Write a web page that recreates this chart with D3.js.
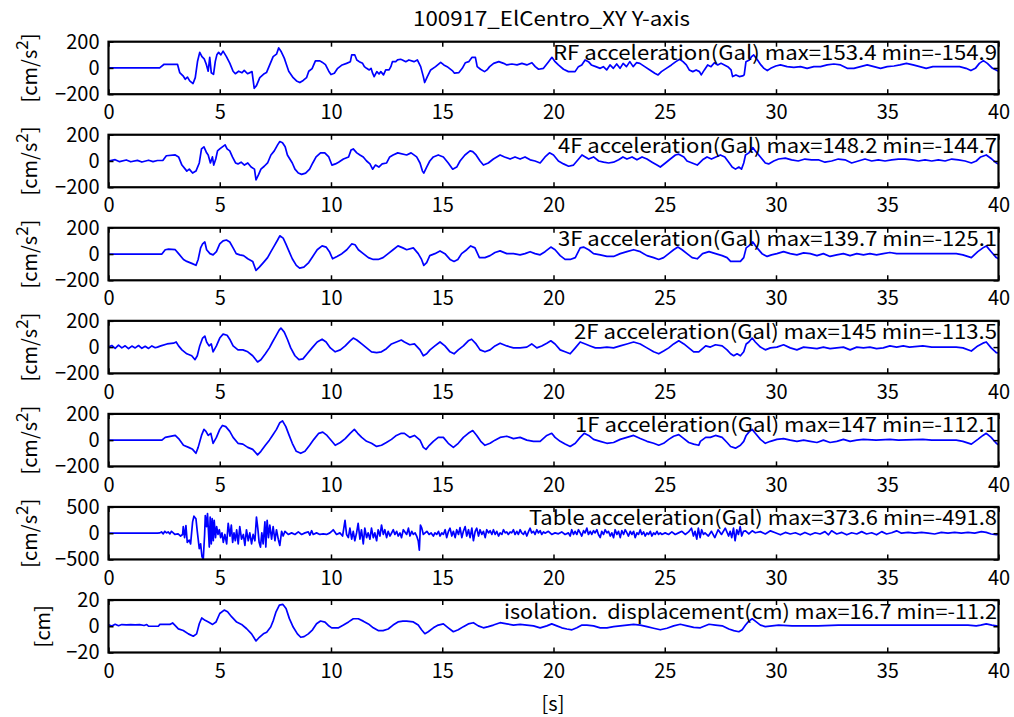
<!DOCTYPE html>
<html><head><meta charset="utf-8">
<script src="https://cdn.jsdelivr.net/npm/d3@7"></script>
<style>
body{margin:0;background:#fff}
svg text{font-family:"Noto Sans CJK JP","Noto Sans",sans-serif;fill:#000}
</style>
</head><body>
<svg id="chart" width="1014" height="717"></svg>
<script>
// ---------------- DATA ----------------
const chartTitle = "100917_ElCentro_XY Y-axis";
const xLabel = "[s]";
const xTicks = [0,5,10,15,20,25,30,35,40];
const accTicks = [-200,0,200];
const tableTicks = [-500,0,500];
const dispTicks = [-20,0,20];
const panelNotes = [
  "RF acceleration(Gal) max=153.4 min=-154.9",
  "4F acceleration(Gal) max=148.2 min=-144.7",
  "3F acceleration(Gal) max=139.7 min=-125.1",
  "2F acceleration(Gal) max=145 min=-113.5",
  "1F acceleration(Gal) max=147 min=-112.1",
  "Table acceleration(Gal) max=373.6 min=-491.8",
  "isolation.  displacement(cm) max=16.7 min=-11.2"
];
const yLabels = ["cm/s2","cm/s2","cm/s2","cm/s2","cm/s2","cm/s2","cm"];

// [time s, value]
const seriesRF = [[0,0],[2.3,0],[2.5,28],[3.1,28],[3.2,-35],[3.35,-60],[3.45,-86],[3.55,-70],[3.65,-99],[3.8,-119],[3.9,-74],[4.0,49],[4.1,119],[4.2,86],[4.3,70],[4.4,25],[4.48,-25],[4.55,80],[4.62,-37],[4.72,-49],[4.8,50],[4.87,100],[4.95,119],[5.05,100],[5.15,128],[5.3,86],[5.45,37],[5.6,-25],[5.7,-44],[5.85,-25],[6.0,-37],[6.1,-18],[6.25,-44],[6.45,-28],[6.55,-155],[6.65,-135],[6.8,-74],[7.0,-44],[7.1,-35],[7.25,25],[7.4,86],[7.55,105],[7.65,153],[7.75,128],[7.9,75],[8.0,25],[8.1,-25],[8.3,-74],[8.45,-99],[8.6,-111],[8.75,-95],[8.9,-74],[9.0,-25],[9.15,-5],[9.3,54],[9.5,54],[9.6,44],[9.75,25],[9.9,-25],[10.0,-50],[10.15,-40],[10.3,-3],[10.5,23],[10.7,35],[10.87,48],[10.93,99],[11.07,99],[11.16,61],[11.27,48],[11.42,35],[11.5,10],[11.6,-3],[11.72,-15],[11.8,-3],[11.87,-40],[11.94,-66],[12.06,-28],[12.16,-46],[12.24,-28],[12.36,-53],[12.46,-15],[12.61,-15],[12.69,10],[12.76,48],[12.91,48],[12.99,61],[13.13,66],[13.21,61],[13.36,48],[13.5,61],[13.73,48],[13.88,61],[14.03,10],[14.15,-66],[14.21,-111],[14.33,-66],[14.48,-15],[14.7,10],[14.93,43],[15.07,23],[15.22,10],[15.45,-20],[15.55,-40],[15.75,-35],[15.9,-3],[16.04,40],[16.19,48],[16.34,81],[16.49,81],[16.57,10],[16.72,-10],[16.9,-28],[17.01,-15],[17.13,10],[17.31,35],[17.54,48],[17.76,35],[17.9,23],[18.13,30],[18.36,23],[18.58,35],[18.8,23],[19.03,40],[19.18,10],[19.33,-10],[19.55,-3],[19.78,48],[19.93,81],[20.07,48],[20.22,23],[20.45,-10],[20.67,-28],[20.97,-28],[21.12,10],[21.27,23],[21.42,61],[21.57,48],[21.7,23],[21.9,10],[22.1,-3],[22.24,10],[22.39,-15],[22.54,23],[22.69,-3],[22.84,30],[22.99,-3],[23.13,35],[23.28,10],[23.43,48],[23.58,10],[23.73,40],[23.88,35],[24.1,10],[24.33,-15],[24.55,-40],[24.7,-53],[24.85,-28],[25.07,-3],[25.3,23],[25.5,48],[25.67,66],[25.82,48],[25.97,23],[26.1,-15],[26.26,-28],[26.41,-15],[26.56,-28],[26.64,-53],[26.78,-15],[26.93,23],[27.08,10],[27.23,40],[27.38,23],[27.53,35],[27.68,23],[27.83,10],[27.98,-15],[28.05,-66],[28.2,-53],[28.35,-66],[28.5,-61],[28.57,-53],[28.65,48],[28.8,61],[28.9,86],[29.0,99],[29.17,61],[29.32,23],[29.46,-3],[29.61,-20],[29.76,-3],[29.99,15],[30.2,23],[30.5,10],[30.8,5],[31.1,10],[31.4,-3],[31.7,10],[32.0,10],[32.3,23],[32.6,30],[32.9,23],[33.2,-3],[33.5,-3],[33.8,10],[34.1,23],[34.4,10],[34.7,-3],[35.0,10],[35.3,15],[35.57,23],[35.86,35],[36.16,23],[36.46,10],[36.75,-3],[37.05,10],[37.35,10],[37.65,10],[37.95,10],[38.25,10],[38.54,-3],[38.76,-20],[38.96,-3],[39.14,35],[39.32,56],[39.5,35],[39.73,-3],[40,-25]];

const series4F = [[0,0],[0.3,10],[0.5,-5],[0.8,8],[1.0,-6],[1.3,5],[1.5,-8],[1.8,6],[2.0,-5],[2.2,4],[2.45,5],[2.6,40],[3.0,46],[3.15,31],[3.3,-31],[3.45,-62],[3.52,-77],[3.63,-62],[3.78,-92],[3.93,-77],[4.08,-15],[4.18,92],[4.29,108],[4.41,62],[4.48,46],[4.58,-15],[4.67,31],[4.73,-31],[4.82,15],[4.9,77],[5.0,92],[5.12,108],[5.24,123],[5.33,92],[5.45,77],[5.57,31],[5.71,-15],[5.82,-22],[5.96,-9],[6.11,-31],[6.26,-15],[6.41,-46],[6.56,-62],[6.63,-144],[6.75,-102],[6.85,-62],[7.0,-40],[7.15,-15],[7.3,46],[7.45,77],[7.6,123],[7.7,148],[7.82,139],[7.94,108],[8.04,46],[8.15,15],[8.26,-15],[8.38,-62],[8.53,-92],[8.68,-102],[8.86,-92],[9.04,-62],[9.18,-15],[9.33,31],[9.53,62],[9.72,62],[9.9,31],[10.04,-31],[10.2,-22],[10.34,-9],[10.56,15],[10.79,31],[10.9,83],[11.0,92],[11.16,62],[11.3,46],[11.45,31],[11.6,0],[11.75,-22],[11.87,-62],[12.0,-31],[12.15,-46],[12.3,-22],[12.5,-15],[12.64,31],[12.79,46],[13.0,62],[13.4,46],[13.6,62],[13.85,31],[14.0,-15],[14.11,-77],[14.17,-92],[14.3,-46],[14.44,0],[14.6,31],[14.82,46],[15.05,31],[15.27,-15],[15.47,-62],[15.65,-46],[15.8,0],[16.02,46],[16.25,77],[16.37,71],[16.52,46],[16.7,0],[16.85,-31],[17.07,-15],[17.3,15],[17.6,46],[17.8,31],[18.05,15],[18.27,31],[18.5,15],[18.72,31],[18.95,9],[19.17,0],[19.4,-15],[19.62,31],[19.82,62],[20.0,46],[20.22,0],[20.45,-22],[20.68,-40],[20.9,-31],[21.13,15],[21.28,46],[21.43,31],[21.58,15],[21.8,31],[22.03,0],[22.25,-9],[22.48,-15],[22.7,-9],[22.93,9],[23.12,31],[23.3,15],[23.53,31],[23.75,9],[23.98,31],[24.2,15],[24.43,-9],[24.65,-31],[24.8,-46],[25.03,-15],[25.25,15],[25.48,46],[25.63,52],[25.86,31],[26.0,0],[26.23,-15],[26.46,-31],[26.7,9],[26.9,31],[27.1,15],[27.3,31],[27.5,46],[27.7,31],[27.9,-15],[28.03,-46],[28.18,-62],[28.33,-46],[28.45,-62],[28.55,-15],[28.63,46],[28.78,62],[28.96,102],[29.07,77],[29.3,31],[29.52,-15],[29.67,-22],[29.9,0],[30.12,15],[30.42,22],[30.7,9],[31.0,0],[31.3,15],[31.6,9],[31.9,9],[32.2,-9],[32.5,0],[32.8,15],[33.1,9],[33.4,-15],[33.7,0],[34.0,15],[34.3,0],[34.6,9],[34.9,0],[35.2,9],[35.5,15],[35.8,15],[36.1,9],[36.4,0],[36.7,9],[37.0,0],[37.3,9],[37.6,0],[37.9,15],[38.2,9],[38.5,0],[38.78,-15],[39.0,0],[39.2,31],[39.45,46],[39.7,15],[39.9,-15],[40,-22]];

const series3F = [[0,0],[2.4,0],[2.55,33],[2.7,38],[3.0,33],[3.15,3],[3.37,-41],[3.52,-56],[3.74,-71],[3.93,-86],[4.03,-41],[4.14,47],[4.23,77],[4.33,92],[4.41,33],[4.56,3],[4.7,-6],[4.85,18],[5.0,77],[5.15,100],[5.3,107],[5.45,92],[5.6,47],[5.74,3],[5.9,-6],[6.07,-12],[6.26,-36],[6.48,-56],[6.63,-125],[6.78,-100],[6.96,-65],[7.15,-27],[7.3,18],[7.45,62],[7.6,107],[7.7,139],[7.85,121],[7.97,77],[8.12,18],[8.26,-36],[8.44,-86],[8.59,-107],[8.78,-100],[9.0,-65],[9.18,-18],[9.38,33],[9.6,62],[9.78,53],[9.93,18],[10.07,-36],[10.27,-18],[10.49,3],[10.71,33],[10.93,77],[11.08,71],[11.23,33],[11.45,3],[11.68,-27],[11.9,-41],[12.12,-41],[12.34,-27],[12.57,3],[12.79,33],[13.01,62],[13.23,47],[13.4,33],[13.7,47],[13.92,3],[14.07,-41],[14.17,-86],[14.3,-65],[14.44,-12],[14.67,3],[14.9,24],[15.12,3],[15.35,-41],[15.53,-56],[15.7,-41],[15.87,3],[16.1,33],[16.28,62],[16.47,47],[16.67,-27],[16.92,-27],[17.15,-12],[17.37,12],[17.6,24],[17.9,3],[18.2,3],[18.5,-6],[18.72,3],[18.95,18],[19.17,3],[19.4,-6],[19.62,18],[19.88,53],[20.07,33],[20.3,-12],[20.52,-41],[20.75,-41],[20.98,-27],[21.2,47],[21.35,53],[21.58,33],[21.8,3],[22.1,-6],[22.4,-18],[22.7,-18],[23.0,3],[23.3,18],[23.6,33],[23.9,18],[24.2,-12],[24.5,-27],[24.73,-41],[24.95,-27],[25.18,3],[25.4,33],[25.59,53],[25.78,33],[26.0,3],[26.23,-27],[26.46,-36],[26.7,3],[26.99,18],[27.28,3],[27.58,-12],[27.8,-27],[27.96,-56],[28.18,-56],[28.4,-56],[28.55,-27],[28.66,47],[28.78,62],[28.96,92],[29.15,47],[29.37,3],[29.6,-18],[29.8,-6],[30.04,3],[30.34,18],[30.64,3],[30.94,-6],[31.24,9],[31.54,3],[31.84,-12],[32.13,3],[32.43,-18],[32.73,-6],[33.03,3],[33.33,-12],[33.63,3],[33.93,-6],[34.22,3],[34.52,-6],[34.82,3],[35.12,12],[35.42,3],[36.0,3],[37.0,3],[38.1,3],[38.4,-6],[38.78,-27],[39.07,18],[39.3,47],[39.45,62],[39.67,18],[39.9,-27],[40,-35]];

const series2F = [[0,0],[0.15,12],[0.3,-9],[0.45,15],[0.6,-6],[0.75,10],[0.9,-12],[1.05,8],[1.2,-6],[1.35,12],[1.5,-9],[1.65,6],[1.8,-10],[1.95,9],[2.1,-5],[2.2,0],[2.35,9],[2.63,24],[2.92,30],[3.04,39],[3.15,9],[3.3,-21],[3.52,-51],[3.74,-66],[3.89,-96],[3.99,-66],[4.1,9],[4.23,69],[4.33,84],[4.41,39],[4.52,9],[4.62,24],[4.7,-36],[4.85,9],[5.0,69],[5.15,99],[5.33,90],[5.47,54],[5.6,9],[5.82,-21],[6.04,-21],[6.26,-36],[6.48,-66],[6.7,-113],[6.85,-96],[7.05,-51],[7.23,-6],[7.37,39],[7.52,84],[7.67,129],[7.75,145],[7.9,114],[8.04,60],[8.19,-6],[8.38,-66],[8.56,-96],[8.74,-90],[8.93,-51],[9.15,-6],[9.38,39],[9.6,60],[9.78,39],[9.97,-6],[10.19,-36],[10.42,-21],[10.64,9],[10.86,48],[11.0,69],[11.16,54],[11.38,24],[11.6,-6],[11.82,-36],[12.05,-42],[12.27,-36],[12.49,-12],[12.72,24],[12.94,39],[13.16,54],[13.3,39],[13.54,18],[13.75,24],[14.0,-21],[14.15,-66],[14.3,-51],[14.45,-21],[14.67,9],[14.9,39],[15.12,9],[15.35,-36],[15.53,-51],[15.72,-21],[15.95,9],[16.17,48],[16.32,60],[16.52,24],[16.7,-21],[16.92,-36],[17.15,-21],[17.37,9],[17.6,30],[17.9,9],[18.2,-6],[18.5,-6],[18.8,0],[19.02,24],[19.25,-6],[19.47,9],[19.7,30],[19.88,48],[20.07,24],[20.3,-21],[20.52,-36],[20.75,-51],[20.98,-6],[21.2,39],[21.43,24],[21.65,9],[21.88,-6],[22.1,-6],[22.4,0],[22.7,-6],[23.0,9],[23.3,24],[23.6,39],[23.9,24],[24.2,-6],[24.5,-36],[24.73,-51],[24.95,-30],[25.18,-6],[25.4,24],[25.63,48],[25.86,24],[26.08,-6],[26.3,-36],[26.53,-36],[26.84,9],[27.05,0],[27.28,18],[27.58,9],[27.8,-21],[27.96,-51],[28.1,-66],[28.25,-51],[28.4,-66],[28.55,-36],[28.66,24],[28.78,39],[28.93,69],[29.07,39],[29.3,0],[29.52,-21],[29.75,-6],[30.04,0],[30.34,18],[30.64,-6],[30.94,-21],[31.24,0],[31.54,-6],[31.84,-12],[32.13,0],[32.43,-12],[32.73,-6],[33.03,0],[33.33,-21],[33.63,0],[33.93,-6],[34.22,0],[34.52,-12],[34.82,-6],[35.12,9],[35.42,0],[35.72,9],[36.0,0],[36.6,9],[37.0,0],[38.1,0],[38.4,-6],[38.78,-30],[39.07,9],[39.3,30],[39.45,39],[39.67,-6],[39.9,-42],[40,-45]];

const series1F = [[0,0],[2.4,0],[2.55,21],[3.0,36],[3.15,12],[3.37,-39],[3.6,-55],[3.78,-70],[3.93,-100],[4.03,-55],[4.18,36],[4.29,82],[4.38,67],[4.48,36],[4.6,52],[4.7,-24],[4.85,21],[5.0,82],[5.12,112],[5.27,103],[5.45,67],[5.6,21],[5.82,-24],[6.04,-30],[6.26,-55],[6.48,-70],[6.7,-112],[6.85,-85],[7.05,-39],[7.23,0],[7.37,36],[7.55,82],[7.7,133],[7.82,147],[7.97,103],[8.12,36],[8.26,-24],[8.44,-85],[8.64,-100],[8.83,-85],[9.04,-39],[9.23,6],[9.45,52],[9.63,61],[9.82,36],[10.04,-9],[10.19,-39],[10.42,-18],[10.64,12],[10.86,52],[11.05,82],[11.2,52],[11.38,21],[11.6,-9],[11.82,-24],[12.05,-48],[12.27,-39],[12.49,-18],[12.72,6],[12.94,36],[13.16,52],[13.3,52],[13.54,21],[13.75,36],[14.0,0],[14.15,-55],[14.27,-70],[14.42,-39],[14.6,-9],[14.82,21],[15.05,21],[15.27,-24],[15.5,-55],[15.72,-24],[15.95,21],[16.17,52],[16.37,73],[16.55,36],[16.73,-9],[16.92,-39],[17.15,-24],[17.37,0],[17.6,21],[17.9,30],[18.2,12],[18.5,21],[18.8,0],[19.1,-9],[19.4,-9],[19.7,36],[19.92,52],[20.07,21],[20.3,-9],[20.52,-30],[20.75,-48],[20.98,-24],[21.2,21],[21.38,52],[21.58,36],[21.8,6],[22.1,-9],[22.4,-24],[22.7,-18],[23.0,6],[23.3,21],[23.6,36],[23.9,12],[24.2,-9],[24.5,-24],[24.73,-39],[24.95,-24],[25.18,6],[25.4,30],[25.63,42],[25.86,12],[26.08,-18],[26.3,-30],[26.53,-39],[26.6,-9],[26.84,21],[27.05,21],[27.28,36],[27.58,21],[27.8,-18],[27.96,-48],[28.18,-61],[28.4,-39],[28.55,-9],[28.66,36],[28.78,61],[28.93,82],[29.07,52],[29.3,6],[29.52,-24],[29.75,-9],[30.04,6],[30.34,12],[30.64,0],[30.94,-9],[31.24,0],[31.54,-9],[31.84,-18],[32.13,0],[32.43,-18],[32.73,-9],[33.03,6],[33.33,-9],[33.63,0],[33.93,6],[34.5,0],[35.12,6],[35.5,0],[36.6,6],[37.0,0],[38.1,0],[38.4,-9],[38.78,-30],[39.07,6],[39.3,36],[39.45,52],[39.67,21],[39.9,-24],[40,-35]];

const seriesTable = [[0,0],[2.2,0],[2.31,6],[2.38,24],[2.46,-12],[2.53,36],[2.61,6],[2.68,24],[2.76,-12],[2.83,36],[2.91,6],[2.98,-24],[3.13,-12],[3.24,-54],[3.33,-24],[3.36,126],[3.42,-84],[3.48,144],[3.54,-174],[3.63,-132],[3.69,-204],[3.78,216],[3.84,324],[3.93,276],[3.99,36],[4.08,-294],[4.14,-204],[4.2,-444],[4.26,-491],[4.32,-24],[4.35,336],[4.41,126],[4.45,373],[4.5,-24],[4.53,-264],[4.57,306],[4.62,-204],[4.66,276],[4.71,-144],[4.75,246],[4.81,-84],[4.86,126],[4.92,-24],[4.98,66],[5.04,-84],[5.1,6],[5.16,-174],[5.23,-24],[5.31,-204],[5.38,186],[5.46,-54],[5.52,156],[5.58,-174],[5.64,6],[5.7,-144],[5.76,66],[5.83,-204],[5.9,126],[5.98,-114],[6.06,-24],[6.13,-234],[6.2,66],[6.28,-144],[6.35,6],[6.43,-204],[6.5,-24],[6.58,-144],[6.65,306],[6.71,96],[6.77,-174],[6.83,-264],[6.89,6],[6.95,-204],[7.03,216],[7.07,-264],[7.13,246],[7.19,-84],[7.25,156],[7.33,-114],[7.4,126],[7.48,-144],[7.55,66],[7.63,-114],[7.7,-234],[7.78,36],[7.85,-54],[7.93,36],[8.08,-24],[8.23,6],[8.38,-24],[8.53,24],[8.68,-24],[8.83,6],[8.98,24],[9.05,-36],[9.13,48],[9.2,-24],[9.35,6],[9.5,-24],[9.65,-12],[9.8,-24],[9.95,6],[10.03,36],[10.1,66],[10.25,-24],[10.4,6],[10.52,-54],[10.63,246],[10.7,-24],[10.78,-84],[10.85,96],[10.93,-114],[11.0,36],[11.07,-144],[11.15,6],[11.22,186],[11.3,-114],[11.37,66],[11.45,-204],[11.52,96],[11.6,-84],[11.67,6],[11.75,-114],[11.82,96],[11.9,-84],[11.97,6],[12.05,-144],[12.12,66],[12.2,-54],[12.27,156],[12.35,-24],[12.42,66],[12.5,-84],[12.57,36],[12.65,-54],[12.8,66],[12.87,-24],[12.95,36],[13.02,-54],[13.1,6],[13.17,-84],[13.25,66],[13.4,-24],[13.48,96],[13.55,-54],[13.63,36],[13.7,-24],[13.78,6],[13.85,-54],[13.92,-144],[13.97,-324],[14.02,156],[14.08,96],[14.15,-24],[14.23,6],[14.31,36],[14.41,-24],[14.5,6],[14.6,-54],[14.67,6],[14.75,-24],[14.83,36],[14.9,-54],[14.98,6],[15.05,-24],[15.13,66],[15.2,-84],[15.28,36],[15.35,96],[15.43,-54],[15.5,36],[15.58,-84],[15.65,66],[15.73,-24],[15.8,108],[15.88,-84],[15.95,36],[16.03,126],[16.1,-54],[16.18,66],[16.25,-84],[16.33,96],[16.4,-144],[16.48,36],[16.55,96],[16.63,-54],[16.7,66],[16.78,-24],[16.85,36],[16.93,-84],[17.0,66],[17.08,6],[17.15,48],[17.23,-24],[17.3,66],[17.38,-24],[17.45,36],[17.53,-54],[17.6,6],[17.68,-24],[17.75,66],[17.83,6],[17.9,24],[17.97,-24],[18.05,24],[18.12,6],[18.2,66],[18.27,-24],[18.35,36],[18.42,-24],[18.5,66],[18.57,6],[18.65,-24],[18.72,36],[18.8,-54],[18.87,24],[18.95,96],[19.02,6],[19.1,36],[19.17,-24],[19.25,66],[19.32,6],[19.4,48],[19.47,-24],[19.55,24],[19.62,0],[19.77,36],[19.92,-24],[20.07,6],[20.22,-12],[20.37,24],[20.52,-24],[20.67,6],[20.75,-54],[20.82,66],[20.9,-24],[20.97,36],[21.05,-24],[21.12,66],[21.2,6],[21.27,-54],[21.35,48],[21.42,6],[21.5,96],[21.57,-24],[21.65,36],[21.72,-24],[21.8,48],[21.87,6],[21.95,66],[22.02,-24],[22.1,-84],[22.17,36],[22.25,-24],[22.32,66],[22.4,6],[22.47,36],[22.55,-54],[22.62,6],[22.7,-84],[22.77,66],[22.85,-24],[22.92,36],[23.0,-84],[23.07,48],[23.15,-24],[23.22,66],[23.3,6],[23.37,-54],[23.45,36],[23.52,-24],[23.6,36],[23.67,-84],[23.75,6],[23.82,-24],[23.9,66],[23.97,-24],[24.05,24],[24.12,-54],[24.2,6],[24.27,-24],[24.35,36],[24.42,-54],[24.5,6],[24.57,-24],[24.65,36],[24.72,-24],[24.8,6],[24.87,-24],[25.02,6],[25.17,-24],[25.32,24],[25.47,-24],[25.62,6],[25.77,36],[25.92,-24],[26.07,24],[26.2,96],[26.29,-54],[26.36,36],[26.44,-114],[26.51,96],[26.59,-84],[26.66,66],[26.74,-24],[26.81,6],[26.96,-54],[27.1,36],[27.25,-84],[27.4,66],[27.55,-24],[27.72,96],[27.87,-54],[27.94,36],[28.01,-84],[28.09,96],[28.16,-144],[28.24,66],[28.31,-24],[28.39,126],[28.46,-54],[28.54,36],[28.63,45],[28.78,-15],[28.93,45],[29.07,8],[29.3,30],[29.52,-15],[29.75,45],[29.97,8],[30.2,-30],[30.42,15],[30.64,-15],[30.87,8],[31.09,-30],[31.3,15],[31.54,-30],[31.76,8],[31.98,-15],[32.2,30],[32.36,-30],[32.5,45],[32.73,-15],[32.96,15],[33.18,-30],[33.4,8],[33.63,-15],[33.85,30],[34.07,-15],[34.3,8],[34.52,-30],[34.75,30],[34.97,-15],[35.2,8],[35.42,45],[35.64,0],[35.94,15],[36.24,0],[36.54,15],[36.84,0],[37.13,-15],[37.43,15],[37.73,0],[38.03,15],[38.33,0],[38.63,15],[38.93,0],[39.23,30],[39.45,15],[39.67,-15],[39.9,-30],[40,-20]];

const seriesDisp = [[0,1.2],[0.15,0.2],[0.3,1.5],[0.45,0.4],[0.6,1.3],[0.8,1.1],[1.0,1.2],[1.2,1.0],[1.4,1.2],[1.6,0.6],[1.72,1.3],[1.8,0],[2.24,0],[2.31,1.4],[2.76,1.4],[2.88,2.5],[2.99,0.6],[3.14,-2],[3.36,-3.2],[3.59,-5.8],[3.81,-7.6],[3.96,-5.8],[4.08,1.9],[4.19,6.3],[4.34,4.5],[4.49,3.2],[4.68,1.4],[4.83,3.2],[5.0,9.7],[5.2,12.3],[5.35,11],[5.54,7.1],[5.76,3.2],[5.98,1.4],[6.21,-1.9],[6.43,-5.8],[6.63,-11.2],[6.78,-8.4],[6.96,-5.8],[7.11,-4.5],[7.29,-0.6],[7.41,4.5],[7.53,11],[7.68,16.1],[7.83,16.7],[7.98,13.5],[8.13,5.8],[8.3,-0.6],[8.49,-5.8],[8.64,-8.4],[8.79,-7.9],[8.98,-5.8],[9.17,-2.7],[9.35,1.9],[9.53,4],[9.73,3.2],[9.88,0.6],[10.03,-1.2],[10.34,-1.2],[10.56,0.9],[10.79,3.3],[11.0,5.7],[11.23,5.7],[11.45,3.9],[11.68,1.8],[11.9,-1.2],[12.12,-3.3],[12.34,-3.3],[12.57,-2.1],[12.79,0.9],[13.01,3.3],[13.23,3.9],[13.4,3.9],[13.7,3.3],[13.92,0.9],[14.07,-2.7],[14.22,-5.7],[14.37,-4.2],[14.6,-1.2],[14.82,0.9],[15.05,1.8],[15.27,-1.2],[15.5,-4.2],[15.72,-2.7],[15.95,-0.3],[16.17,1.8],[16.4,2.7],[16.62,0.3],[16.85,-1.2],[17.07,-0.3],[17.3,0.9],[17.6,2.7],[17.9,1.8],[18.2,0.9],[18.5,1.5],[18.8,0.9],[19.1,0.3],[19.4,-1.2],[19.7,0.3],[19.92,1.8],[20.15,0.3],[20.37,-1.2],[20.6,-2.1],[20.83,-2.7],[21.05,-1.2],[21.28,0.9],[21.5,0.9],[21.8,0.3],[22.1,-1.2],[22.4,-1.2],[22.7,-0.3],[23.0,0.3],[23.3,0.9],[23.6,1.5],[23.9,0.9],[24.2,-0.3],[24.5,-1.5],[24.8,-2.7],[25.1,-1.5],[25.4,0.3],[25.7,1.5],[26.0,0.3],[26.3,-0.9],[26.6,-1.2],[26.99,1.5],[27.28,0.9],[27.58,0.3],[27.88,-2.1],[28.1,-3.3],[28.33,-4.2],[28.48,-2.7],[28.63,0.9],[28.78,3.9],[28.93,5.7],[29.07,3.9],[29.3,0.9],[29.52,-0.3],[29.82,0.3],[30.12,0.9],[30.72,0.3],[31.3,0.3],[31.9,0.3],[32.8,0.9],[33.7,0.9],[34.9,0.9],[36.4,0.9],[38.63,0.9],[39.0,0.3],[39.2,0.9],[39.45,1.8],[39.7,0.9],[39.9,0.3],[40,0]];

// ---------------- LAYOUT ----------------
const W = 1014, H = 717;
const plotL = 108.5, plotR = 998.5;
const top0 = 41.7, step = 93.05, ph = 52.5;
const noteStarts = [553, 558, 558, 574, 575, 529, 504];
const labelX = [37, 37, 37, 37, 37, 37, 50];

const panels = [
  {data: seriesRF, ticks: accTicks},
  {data: series4F, ticks: accTicks},
  {data: series3F, ticks: accTicks},
  {data: series2F, ticks: accTicks},
  {data: series1F, ticks: accTicks},
  {data: seriesTable, ticks: tableTicks},
  {data: seriesDisp, ticks: dispTicks}
];

const svg = d3.select("#chart");
svg.append("rect").attr("width", W).attr("height", H).attr("fill", "#fff");

const x = d3.scaleLinear().domain([0, 40]).range([plotL, plotR]);
const fmt = d3.format("");
const FONT = "\"Noto Sans CJK JP\",\"Noto Sans\",sans-serif";

svg.append("text").attr("x", 551.5).attr("y", 26).attr("text-anchor", "middle")
  .attr("font-size", 20).attr("textLength", 277).attr("lengthAdjust", "spacingAndGlyphs")
  .text(chartTitle);

panels.forEach((p, i) => {
  const top = top0 + i * step;
  const lim = p.ticks[p.ticks.length - 1];
  const y = d3.scaleLinear().domain([-lim, lim]).range([top + ph, top]);
  const g = svg.append("g");

  const clipId = "clip" + i;
  svg.append("clipPath").attr("id", clipId).append("rect")
    .attr("x", plotL).attr("y", top).attr("width", plotR - plotL).attr("height", ph);

  g.append("path").datum(p.data)
    .attr("clip-path", "url(#" + clipId + ")")
    .attr("fill", "none").attr("stroke", "#0000ff").attr("stroke-width", 1.7)
    .attr("stroke-linejoin", "round")
    .attr("d", d3.line().x(d => x(d[0])).y(d => y(d[1])));

  // axes (inward ticks)
  const ax = [
    g.append("g").attr("transform", `translate(0,${top + ph})`)
      .call(d3.axisBottom(x).tickValues(xTicks).tickSize(-5).tickPadding(11).tickFormat(fmt)),
    g.append("g").attr("transform", `translate(0,${top})`)
      .call(d3.axisTop(x).tickValues(xTicks).tickSize(-5).tickFormat("")),
    g.append("g").attr("transform", `translate(${plotL},0)`)
      .call(d3.axisLeft(y).tickValues(p.ticks).tickSize(-5).tickPadding(9).tickFormat(d3.format("d"))),
    g.append("g").attr("transform", `translate(${plotR},0)`)
      .call(d3.axisRight(y).tickValues(p.ticks).tickSize(-5).tickFormat(""))
  ];
  ax.forEach(a => {
    a.select(".domain").remove();
    a.attr("font-family", FONT).attr("font-size", 20);
    a.selectAll("line").attr("stroke", "#000").attr("stroke-width", 1.5);
    a.selectAll("text").attr("fill", "#000");
  });

  g.append("rect").attr("x", plotL).attr("y", top).attr("width", plotR - plotL).attr("height", ph)
    .attr("fill", "none").attr("stroke", "#000").attr("stroke-width", 2.2);

  // note
  g.append("text").attr("x", 997).attr("y", top + 18.5).attr("text-anchor", "end")
    .attr("font-size", 20).attr("xml:space", "preserve").style("white-space", "pre")
    .attr("textLength", 997 - noteStarts[i]).attr("lengthAdjust", "spacingAndGlyphs")
    .text(panelNotes[i]);

  // y label
  const cy = top + ph / 2;
  const lab = g.append("text").attr("transform", `translate(${labelX[i]},${cy}) rotate(-90)`)
    .attr("text-anchor", "middle").attr("font-size", 20);
  if (yLabels[i] === "cm/s2") {
    lab.append("tspan").text("[cm/s");
    lab.append("tspan").attr("dy", -9).attr("font-size", 17).text("2");
    lab.append("tspan").attr("dy", 9).text("]");
  } else {
    lab.text("[" + yLabels[i] + "]");
  }
});

svg.append("text").attr("x", 553).attr("y", 711).attr("text-anchor", "middle")
  .attr("font-size", 20).text(xLabel);
</script>
</body></html>
